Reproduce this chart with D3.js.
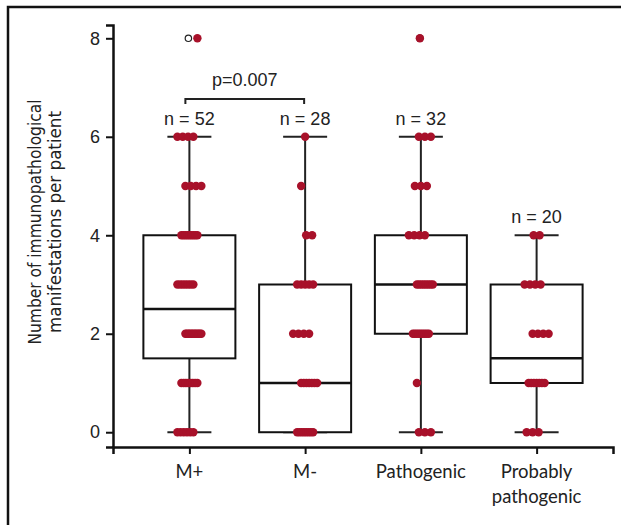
<!DOCTYPE html>
<html>
<head>
<meta charset="utf-8">
<script src="https://cdn.jsdelivr.net/npm/d3@7"></script>
<style>
  body { margin: 0; background: #fff; }
  text { fill: #222; }
</style>
</head>
<body>
<div id="chart"></div>
<script>
// groups and box statistics
var groups = ["M+", "M-", "Pathogenic", "Probably pathogenic"];
var nLabels = [52, 28, 32, 20];
var q1 = [1.5, 0, 2, 1];
var medians = [2.5, 1, 3, 1.5];
var q3 = [4, 3, 4, 3];
var whiskLo = [0, 0, 0, 0];
var whiskHi = [6, 6, 6, 4];
var outliers = [[8], [], [8], []];

// patient counts per number of manifestations (0..8)
var values = [0, 1, 2, 3, 4, 5, 6, 7, 8];
var countsMplus = [6, 8, 12, 7, 9, 4, 4, 0, 1];
var countsMminus = [8, 7, 4, 5, 2, 1, 1, 0, 0];
var countsPatho = [3, 1, 9, 8, 4, 3, 3, 0, 1];
var countsProb = [3, 7, 4, 4, 2, 0, 0, 0, 0];
var counts = [countsMplus, countsMminus, countsPatho, countsProb];

var yTicks = [0, 2, 4, 6, 8];

var svgWidth = 621;
var svgHeight = 525;

var svg = d3.select("#chart")
  .append("svg")
  .attr("width", svgWidth)
  .attr("height", svgHeight);

// outer frame
svg.append("rect")
  .attr("x", 8).attr("y", 7)
  .attr("width", 640).attr("height", 540)
  .attr("fill", "none")
  .attr("stroke", "#111")
  .attr("stroke-width", 2.5);

var x = d3.scalePoint()
  .domain(groups)
  .range([113, 613])
  .padding(0.66);

var y = d3.scaleLinear()
  .domain([-0.3, 8.27])
  .range([447, 25]);

var boxW = 92;
var capW = 44;

// axes
var leftAxis = d3.axisLeft(y).tickValues(yTicks).tickSize(7).tickPadding(6);
var yg = svg.append("g")
  .attr("transform", "translate(113,0)")
  .call(leftAxis);
yg.selectAll("text")
  .attr("font-family", "Liberation Sans, Arial, sans-serif")
  .attr("font-size", 18)
  .attr("fill", "#222");

var bottomAxis = d3.axisBottom(x).tickSize(7).tickFormat("");
var xg = svg.append("g")
  .attr("transform", "translate(0,447)")
  .call(bottomAxis);

[yg, xg].forEach(function(g) {
  g.select(".domain").attr("stroke", "#111").attr("stroke-width", 2.5);
  g.selectAll(".tick line").attr("stroke", "#111").attr("stroke-width", 2);
});

// x labels (two lines for last)
groups.forEach(function(gname) {
  var lines = gname == "Probably pathogenic" ? ["Probably", "pathogenic"] : [gname];
  lines.forEach(function(l, i) {
    svg.append("text")
      .attr("x", x(gname))
      .attr("y", 478 + i * 25)
      .attr("text-anchor", "middle")
      .attr("font-family", "Lato, sans-serif")
      .attr("font-size", 18.5)
      .text(l);
  });
});

// y title
var yTitle = svg.append("g")
  .attr("transform", "translate(0,222) rotate(-90)");
yTitle.append("text")
  .attr("x", 0).attr("y", 41)
  .attr("text-anchor", "middle")
  .attr("font-family", "DejaVu Sans Condensed, Liberation Sans Narrow, sans-serif")
  .attr("font-size", 17)
  .attr("textLength", 245)
  .attr("lengthAdjust", "spacingAndGlyphs")
  .text("Number of immunopathological");
yTitle.append("text")
  .attr("x", 0).attr("y", 61)
  .attr("text-anchor", "middle")
  .attr("font-family", "DejaVu Sans Condensed, Liberation Sans Narrow, sans-serif")
  .attr("font-size", 17)
  .attr("textLength", 222)
  .attr("lengthAdjust", "spacingAndGlyphs")
  .text("manifestations per patient");

// boxes
var boxG = svg.append("g");
groups.forEach(function(gname, i) {
  var cx = x(gname);
  // whiskers
  boxG.append("line")
    .attr("x1", cx).attr("x2", cx)
    .attr("y1", y(whiskHi[i])).attr("y2", y(whiskLo[i]))
    .attr("stroke", "#222").attr("stroke-width", 2);
  [whiskLo[i], whiskHi[i]].forEach(function(v) {
    boxG.append("line")
      .attr("x1", cx - capW / 2).attr("x2", cx + capW / 2)
      .attr("y1", y(v)).attr("y2", y(v))
      .attr("stroke", "#222").attr("stroke-width", 2);
  });
  boxG.append("rect")
    .attr("x", cx - boxW / 2)
    .attr("y", y(q3[i]))
    .attr("width", boxW)
    .attr("height", y(q1[i]) - y(q3[i]))
    .attr("fill", "#fff")
    .attr("stroke", "#111")
    .attr("stroke-width", 2);
  boxG.append("line")
    .attr("x1", cx - boxW / 2).attr("x2", cx + boxW / 2)
    .attr("y1", y(medians[i])).attr("y2", y(medians[i]))
    .attr("stroke", "#111").attr("stroke-width", 2.5);
  outliers[i].forEach(function(v) {
    boxG.append("circle")
      .attr("cx", cx - 1).attr("cy", y(v)).attr("r", 3.2)
      .attr("fill", "#fff").attr("stroke", "#222").attr("stroke-width", 1.2);
  });
  // n label
  svg.append("text")
    .attr("x", cx)
    .attr("y", y(whiskHi[i]) - 12)
    .attr("text-anchor", "middle")
    .attr("font-family", "Liberation Sans, Arial, sans-serif")
    .attr("font-size", 18)
    .text("n = " + nLabels[i]);
});

// points: spread patients with the same value side by side
var pts = [];
counts.forEach(function(c, gi) {
  c.forEach(function(k, vi) {
    var shift = ((values[vi] + gi) % 3 - 1) * 4;
    if (values[vi] == 8) shift = gi == 0 ? 8 : -1;
    var half = Math.min(8, 3 * (k - 1));
    for (var j = 0; j < k; j++) {
      var off = k > 1 ? -half + (2 * half) * j / (k - 1) : 0;
      pts.push({ g: groups[gi], v: values[vi], dx: off + shift });
    }
  });
});
svg.append("g").selectAll("circle")
  .data(pts)
  .enter()
  .append("circle")
  .attr("cx", d => x(d.g) + d.dx)
  .attr("cy", d => y(d.v))
  .attr("r", 4.2)
  .attr("fill", "#a8112a");

// significance bracket
var bx1 = x("M+") - 4, bx2 = x("M-") - 1, by = 99;
svg.append("path")
  .attr("d", `M${bx1},${by + 5}V${by}H${bx2}V${by + 5}`)
  .attr("fill", "none")
  .attr("stroke", "#222")
  .attr("stroke-width", 2);
svg.append("text")
  .attr("x", (bx1 + bx2) / 2)
  .attr("y", 86)
  .attr("text-anchor", "middle")
  .attr("font-family", "Liberation Sans, Arial, sans-serif")
  .attr("font-size", 18)
  .text("p=0.007");
</script>
</body>
</html>
